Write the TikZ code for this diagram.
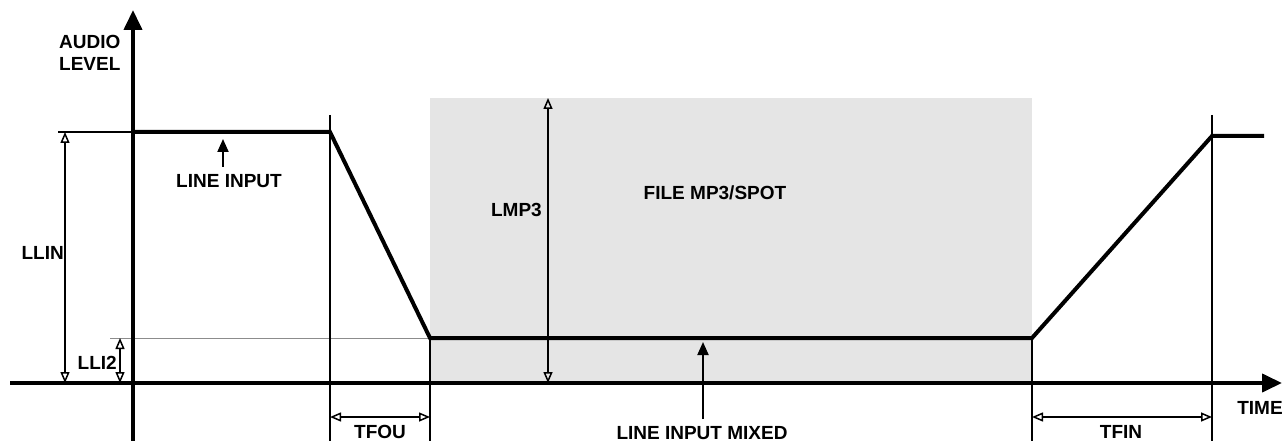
\documentclass[tikz,border=0pt]{standalone}
\usepackage{fontspec}
\setmainfont{Liberation Sans}
\usetikzlibrary{arrows.meta}
\definecolor{boxgray}{HTML}{E5E5E5}
\begin{document}
\begin{tikzpicture}[x=1pt,y=-1pt,
  lbl/.style={font=\fontsize{19}{22}\selectfont\bfseries, inner sep=0pt},
  axis/.style={line width=4pt, -{Triangle[length=20pt,width=18pt]}},
  sig/.style={line width=4pt, line join=miter},
  guide/.style={line width=2pt},
  thinref/.style={line width=1pt, black!45},
  dim/.style={line width=2pt, {Triangle[open,length=11pt,width=9pt,line width=1.5pt]}-{Triangle[open,length=11pt,width=9pt,line width=1.5pt]}},
  pointer/.style={line width=2pt, -{Triangle[length=13pt,width=11pt]}}]
\useasboundingbox (0,0) rectangle (1283,441);
% coordinates
\coordinate (O) at (133,383);
\coordinate (Yb) at (133,441);
\coordinate (Yt) at (133,10);
\coordinate (Xl) at (10,383);
\coordinate (Xr) at (1282,383);
\coordinate (A) at (133,132);
\coordinate (B) at (330,132);
\coordinate (C) at (430,338);
\coordinate (D) at (1032,338);
\coordinate (E) at (1212,136);
\coordinate (F) at (1264,136);
% gray box
\fill[boxgray] (430,98) rectangle (1032,383);
% reference lines
\draw[thinref] (110,338) -- (C);
\draw[line width=1.5pt] (58,132) -- (A);
% vertical guides
\draw[guide] (330,115) -- (330,441);
\draw[guide] (C) -- (430,441);
\draw[guide] (D) -- (1032,441);
\draw[guide] (1212,115) -- (1212,441);
% axes
\draw[axis] (Xl) -- (Xr);
\draw[axis] (Yb) -- (Yt);
% signal
\draw[sig] (A) -- (B) -- (C) -- (D) -- (E) -- (F);
% dimension arrows
\coordinate (llinT) at (65,132);
\coordinate (llinB) at (65,383);
\draw[dim] (llinT) -- (llinB);
\coordinate (lli2T) at (120,338);
\coordinate (lli2B) at (120,383);
\draw[dim] (lli2T) -- (lli2B);
\coordinate (lmpT) at (548,98);
\coordinate (lmpB) at (548,383);
\draw[dim] (lmpT) -- (lmpB);
\coordinate (tfouL) at (330,417);
\coordinate (tfouR) at (430,417);
\draw[dim] (tfouL) -- (tfouR);
\coordinate (tfinL) at (1032,417);
\coordinate (tfinR) at (1212,417);
\draw[dim] (tfinL) -- (tfinR);
% labels
\node[lbl, anchor=west, align=left] (audio) at (59,53) {AUDIO\\LEVEL};
\node[lbl, anchor=east] (llin) at (64,253) {LLIN};
\node[lbl, anchor=east] (lli2) at (117,363) {LLI2};
\node[lbl, anchor=east] (lmp3) at (542,210) {LMP3};
\node[lbl] (filemp3) at (715,193) {FILE MP3/SPOT};
\node[lbl] (linein) at (229,181) {LINE INPUT};
\node[lbl] (linemix) at (702,433) {LINE INPUT MIXED};
\node[lbl] (tfou) at (380,432) {TFOU};
\node[lbl] (tfin) at (1121,432) {TFIN};
\node[lbl] (time) at (1260,408) {TIME};
% pointers
\coordinate (liTip) at (223,139);
\coordinate (liBase) at (223,167);
\draw[pointer] (liBase) -- (liTip);
\coordinate (lmTip) at (703,342);
\coordinate (lmBase) at (703,419);
\draw[pointer] (lmBase) -- (lmTip);
\end{tikzpicture}
\end{document}
